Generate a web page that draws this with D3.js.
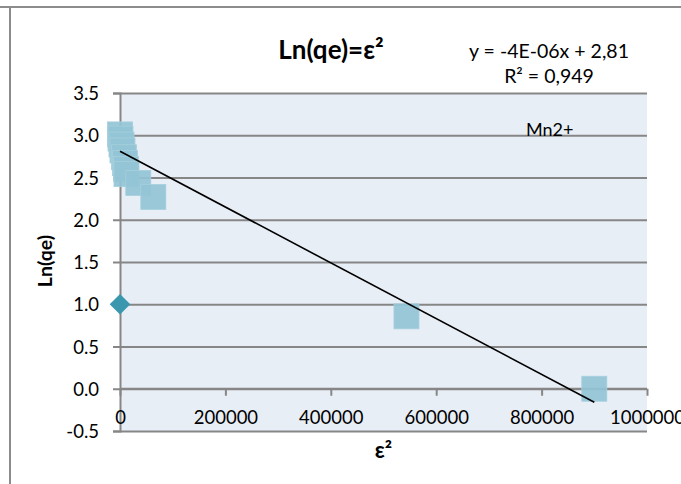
<!DOCTYPE html>
<html>
<head>
<meta charset="utf-8">
<script src="https://cdn.jsdelivr.net/npm/d3@7"></script>
<style>
  html, body { margin: 0; padding: 0; background: #fff; overflow: hidden; }
  svg { display: block; }
  text { font-family: Lato, "Open Sans", sans-serif; fill: #000; }
</style>
</head>
<body>
<svg id="chart" width="681" height="484"></svg>
<script>
// Ln(qe) against ε² for Mn2+ sorption
const epsSquared = [0, 950, 2850, 4700, 7600, 9500, 11400, 12300, 34700, 63200, 543600, 900000];
const lnQe       = [3.01, 2.96, 2.89, 2.82, 2.74, 2.67, 2.60, 2.54, 2.435, 2.27, 0.857, 0.0];

// separate single-point series drawn as a diamond
const markerX = [0];
const markerY = [1.0];

// linear trend line
const trendSlope = -3.3e-6;
const trendIntercept = 2.81;

const xTicks = [0, 200000, 400000, 600000, 800000, 1000000];
const yTicks = [-0.5, 0.0, 0.5, 1.0, 1.5, 2.0, 2.5, 3.0, 3.5];

const titleText = "Ln(qe)=ε²";
const xTitle = "ε²";
const yTitle = "Ln(qe)";
const equationLines = ["y = -4E-06x + 2,81", "R² = 0,949"];
const seriesLabel = "Mn2+";

const svg = d3.select("#chart");
const plot = { left: 120, right: 647, top: 93, bottom: 431 };

const x = d3.scaleLinear().domain([0, 1000000]).range([plot.left, plot.right]);
const y = d3.scaleLinear().domain([-0.5, 3.5]).range([plot.bottom, plot.top]);

const gridColor = "#868686";
// plain hyphen for negative numbers
const fmtY = d => d3.format(".1f")(d).replace("\u2212", "-");

// outer chart frame (top and left edges)
svg.append("line").attr("x1", 0).attr("x2", 681).attr("y1", 7).attr("y2", 7)
  .attr("stroke", "#8c8c8c").attr("stroke-width", 2);
svg.append("line").attr("x1", 10).attr("x2", 10).attr("y1", 7).attr("y2", 484)
  .attr("stroke", "#8c8c8c").attr("stroke-width", 2);

// plot area background
svg.append("rect")
  .attr("x", plot.left).attr("y", plot.top)
  .attr("width", plot.right - plot.left).attr("height", plot.bottom - plot.top)
  .attr("fill", "#E8EEF6");

// horizontal gridlines + y axis with ticks
const yAxis = d3.axisLeft(y).tickValues(yTicks).tickSize(7).tickFormat(fmtY);
const gy = svg.append("g").attr("transform", `translate(${plot.left},0)`).call(yAxis);
gy.select(".domain").attr("stroke", gridColor).attr("stroke-width", 2);
gy.selectAll(".tick line").attr("stroke", gridColor).attr("stroke-width", 2);
gy.selectAll(".tick text")
  .attr("x", -21).attr("dy", "0.36em")
  .style("font-size", "18.5px").style("font-family", "Lato");
gy.selectAll(".tick").append("line")
  .attr("x1", 0).attr("x2", plot.right - plot.left)
  .attr("stroke", gridColor).attr("stroke-width", 2);

// x axis crossing at y = 0
const xAxis = d3.axisBottom(x).tickValues(xTicks).tickSize(7).tickFormat(d3.format("d"));
const gx = svg.append("g").attr("transform", `translate(0,${y(0)})`).call(xAxis);
gx.select(".domain").attr("stroke", gridColor).attr("stroke-width", 2)
  .attr("d", `M${plot.left},0H${plot.right}`);
gx.selectAll(".tick line").attr("stroke", gridColor).attr("stroke-width", 2);
gx.selectAll(".tick text")
  .attr("y", 35).attr("dy", 0)
  .style("font-size", "18.5px").style("font-family", "Lato");

// data points
const pts = epsSquared.map((v, i) => ({ x: v, y: lnQe[i] }));
const sq = 25;
svg.append("g").selectAll("rect").data(pts).join("rect")
  .attr("x", d => x(d.x) - sq / 2)
  .attr("y", d => y(d.y) - sq / 2)
  .attr("width", sq).attr("height", sq)
  .attr("fill", "#93C4D6")
  .attr("fill-opacity", 0.92)
  .attr("stroke", "#A6CFDD").attr("stroke-width", 0.8);

const dm = d3.symbol().type(d3.symbolDiamond2).size(270);
svg.append("g").selectAll("path").data(markerX.map((v, i) => ({ x: v, y: markerY[i] }))).join("path")
  .attr("d", dm)
  .attr("transform", d => `translate(${x(d.x)},${y(d.y)})`)
  .attr("fill", "#3A97AD");

// trend line across the data range
const xMin = d3.min(epsSquared), xMax = d3.max(epsSquared);
svg.append("line")
  .attr("x1", x(xMin)).attr("y1", y(trendIntercept + trendSlope * xMin))
  .attr("x2", x(xMax)).attr("y2", y(trendIntercept + trendSlope * xMax))
  .attr("stroke", "#000").attr("stroke-width", 1.6);

// titles and labels
svg.append("text").attr("x", 331).attr("y", 59).attr("text-anchor", "middle")
  .style("font-size", "26px").style("font-weight", "bold").text(titleText);

svg.append("text").attr("x", (plot.left + plot.right) / 2).attr("y", 458).attr("text-anchor", "middle")
  .style("font-size", "22px").style("font-weight", "bold").text(xTitle);

svg.append("text").attr("transform", "translate(52,261) rotate(-90)").attr("text-anchor", "middle")
  .style("font-size", "19.5px").style("font-weight", "bold").text(yTitle);

svg.append("g").selectAll("text").data(equationLines).join("text")
  .attr("x", 549).attr("y", (d, i) => 58 + i * 25)
  .attr("text-anchor", "middle")
  .style("font-size", "19.5px").text(d => d);

svg.append("text").attr("x", 526).attr("y", 136)
  .style("font-size", "18px").text(seriesLabel);
</script>
</body>
</html>
